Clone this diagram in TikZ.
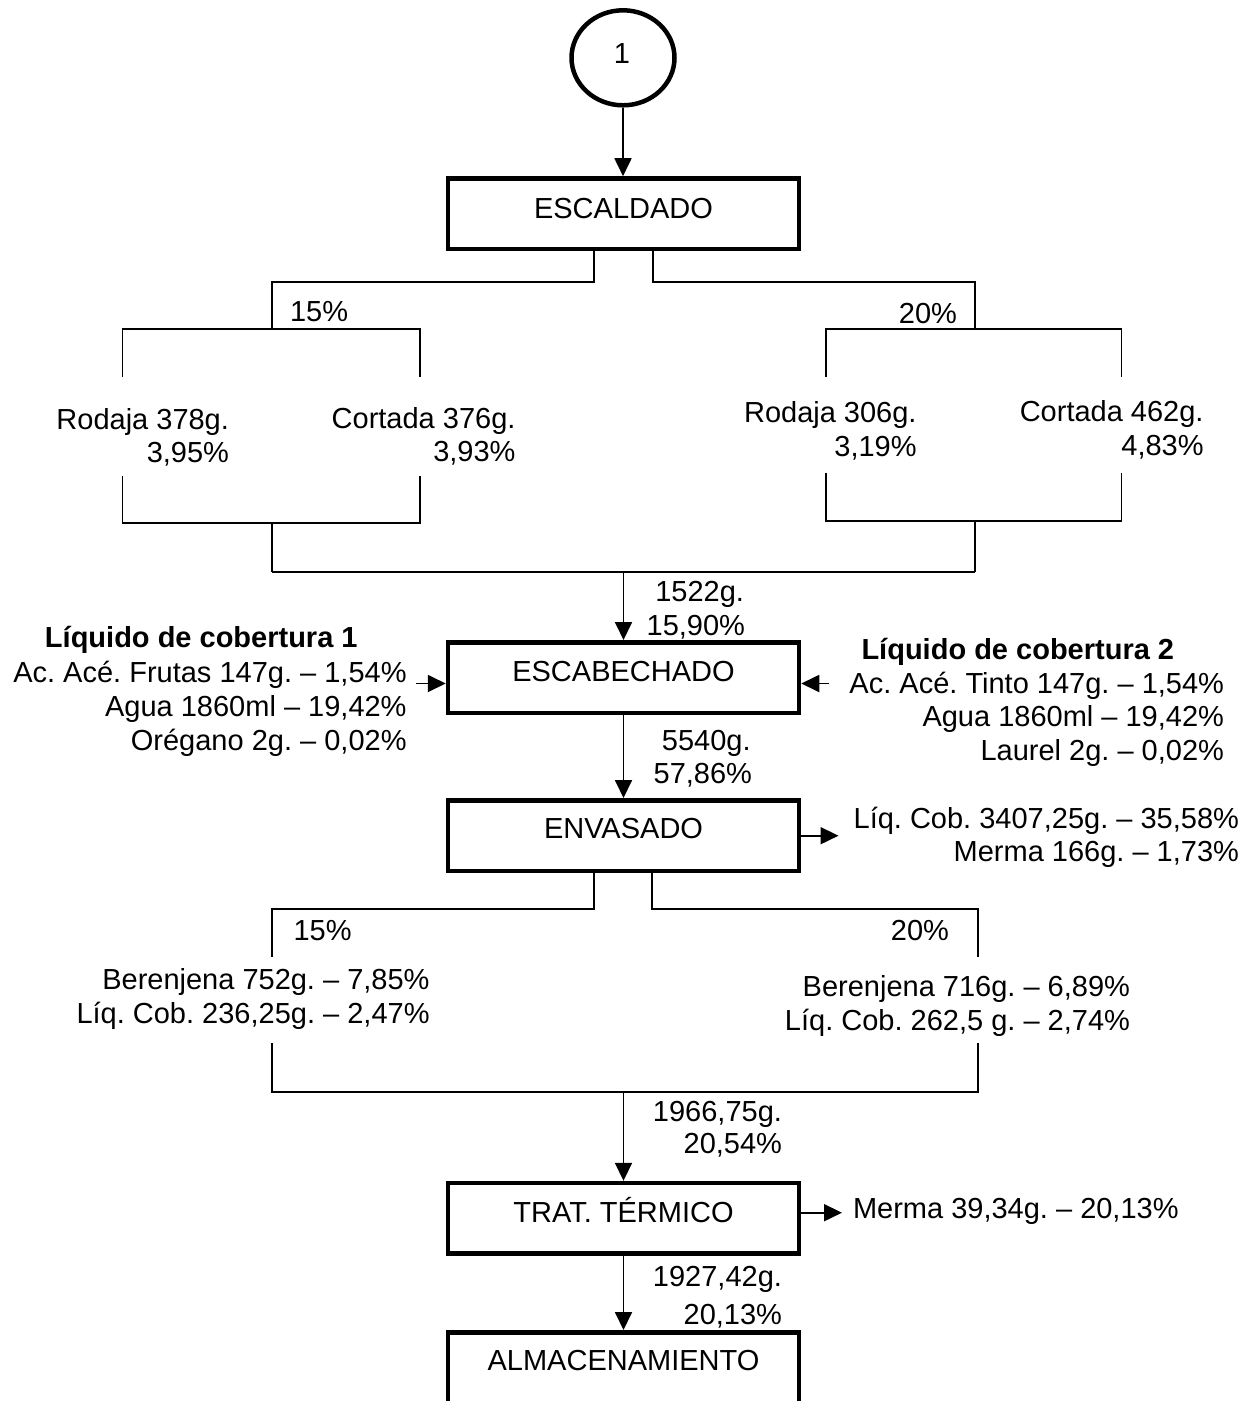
\documentclass[tikz,border=0pt]{standalone}
\usepackage{fontspec}
\setmainfont{Liberation Sans}
\usetikzlibrary{arrows.meta,shapes.geometric}
\frenchspacing
\begin{document}
\begin{tikzpicture}[x=1pt,y=-1pt,
  txt/.style={inner sep=0pt,outer sep=0pt,font=\fontsize{29}{34}\selectfont\frenchspacing},
  btxt/.style={txt,font=\fontsize{29}{34}\selectfont\bfseries\frenchspacing},
  stagebox/.style={draw,line width=4.5pt,rectangle,minimum width=351pt,minimum height=70.5pt,inner sep=0pt},
  ln/.style={line width=1.8pt},
  arr/.style={line width=1.8pt,-{Triangle[length=18pt,width=17pt]}}]
\useasboundingbox (0,0) rectangle (1256,1401);
\fill[white] (0,0) rectangle (1256,1401);
\clip (0,0) rectangle (1256,1401);

% connector circle
\node[draw,ellipse,line width=4.5pt,minimum width=103pt,minimum height=95pt,inner sep=0pt] (c1) at (623,57.8) {};
\node[txt,anchor=base] (c1t) at (622,63.3) {1};

% stage boxes
\node[stagebox] (escaldado) at (623.5,213.7) {};
\node[txt,anchor=base] (escaldadot) at (623.5,218.3) {ESCALDADO};
\node[stagebox] (escabechado) at (623.5,677.5) {};
\node[txt,anchor=base] (escabechadot) at (623.5,681.7) {ESCABECHADO};
\node[stagebox] (envasado) at (623.5,835.5) {};
\node[txt,anchor=base] (envasadot) at (623.5,838) {ENVASADO};
\node[stagebox] (trat) at (623.5,1218.3) {};
\node[txt,anchor=base] (tratt) at (623.5,1222.7) {TRAT. TÉRMICO};
\node[stagebox] (alm) at (623.5,1367.5) {};
\node[txt,anchor=base] (almt) at (623.5,1370) {ALMACENAMIENTO};

\draw[arr] (c1.south) -- (c1.south |- escaldado.north);

% upper split
\coordinate (s1L) at (594,281.7);
\coordinate (s1R) at (653,281.7);
\draw[ln] (s1L |- escaldado.south) -- (s1L) -- (272,281.7) -- (272,329.3);
\draw[ln] (122.5,377.3) -- (122.5,329.3) -- (419.8,329.3) -- (419.8,377.3);
\draw[ln] (s1R |- escaldado.south) -- (s1R) -- (975,281.7) -- (975,329.3);
\draw[ln] (825.6,377.3) -- (825.6,329.3) -- (1121.5,329.3) -- (1121.5,377.3);

\node[txt,anchor=base west] (p15a) at (290,321.7) {15\%};
\node[txt,anchor=base east] (p20a) at (957,323.3) {20\%};

\node[txt,anchor=base east] (rod1) at (229,429.3) {Rodaja 378g.};
\node[txt,anchor=base east] (rod1p) at (229,462.7) {3,95\%};
\node[txt,anchor=base east] (cor1) at (515.5,428.3) {Cortada 376g.};
\node[txt,anchor=base east] (cor1p) at (515.5,461.7) {3,93\%};
\node[txt,anchor=base east] (rod2) at (916.6,422.7) {Rodaja 306g.};
\node[txt,anchor=base east] (rod2p) at (916.6,456.7) {3,19\%};
\node[txt,anchor=base east] (cor2) at (1203.6,421) {Cortada 462g.};
\node[txt,anchor=base east] (cor2p) at (1203.6,455) {4,83\%};

% lower join
\draw[ln] (122.5,476) -- (122.5,523) -- (419.8,523) -- (419.8,476);
\draw[ln] (272,523) -- (272,571.7);
\draw[ln] (825.6,472.7) -- (825.6,521) -- (1121.5,521) -- (1121.5,472.7);
\draw[ln] (975,521) -- (975,571.7);
\coordinate (j1) at (623.5,571.7);
\draw[ln] (272,571.7) -- (975,571.7);
\draw[arr] (j1) -- (escabechado.north);
\node[txt,anchor=base east] (m1522) at (744,601.7) {1522g.};
\node[txt,anchor=base east] (p1590) at (745,635) {15,90\%};

% liquid 1
\node[btxt,anchor=base west] (liq1) at (45,647.3) {Líquido de cobertura 1};
\node[txt,anchor=base east] (liq1a) at (406.6,682.7) {Ac. Acé. Frutas 147g. – 1,54\%};
\node[txt,anchor=base east] (liq1b) at (406.6,716) {Agua 1860ml – 19,42\%};
\node[txt,anchor=base east] (liq1c) at (406.6,750.7) {Orégano 2g. – 0,02\%};
\coordinate (inL) at (416,683.5);
\draw[arr] (inL) -- (inL -| escabechado.west);

% liquid 2
\node[btxt,anchor=base west] (liq2) at (861.5,659.3) {Líquido de cobertura 2};
\node[txt,anchor=base east] (liq2a) at (1224,693.3) {Ac. Acé. Tinto 147g. – 1,54\%};
\node[txt,anchor=base east] (liq2b) at (1224,726.7) {Agua 1860ml – 19,42\%};
\node[txt,anchor=base east] (liq2c) at (1224,760) {Laurel 2g. – 0,02\%};
\coordinate (inR) at (829,683.5);
\draw[arr] (inR) -- (inR -| escabechado.east);

\draw[arr] (escabechado.south) -- (envasado.north);
\node[txt,anchor=base east] (m5540) at (750.6,750) {5540g.};
\node[txt,anchor=base east] (p5786) at (752,783.3) {57,86\%};

% envasado output
\coordinate (outE) at (838.5,835.7);
\draw[arr] (envasado.east |- outE) -- (outE);
\node[txt,anchor=base east] (oute1) at (1239,828.3) {Líq. Cob. 3407,25g. – 35,58\%};
\node[txt,anchor=base east] (oute2) at (1239,861.7) {Merma 166g. – 1,73\%};

% envasado split
\coordinate (s2L) at (594,909);
\coordinate (s2R) at (652,909);
\draw[ln] (s2L |- envasado.south) -- (s2L) -- (272,909) -- (272,957.3);
\draw[ln] (s2R |- envasado.south) -- (s2R) -- (977.8,909) -- (977.8,957.3);
\node[txt,anchor=base west] (p15b) at (293.6,940.7) {15\%};
\node[txt,anchor=base east] (p20b) at (949,940.7) {20\%};
\node[txt,anchor=base east] (ber1) at (429.6,989.3) {Berenjena 752g. – 7,85\%};
\node[txt,anchor=base east] (lc1) at (429.6,1023.3) {Líq. Cob. 236,25g. – 2,47\%};
\node[txt,anchor=base east] (ber2) at (1130,996) {Berenjena 716g. – 6,89\%};
\node[txt,anchor=base east] (lc2) at (1130,1030) {Líq. Cob. 262,5 g. – 2,74\%};
\draw[ln] (272,1043) -- (272,1091.7) -- (977.8,1091.7) -- (977.8,1043);
\coordinate (j2) at (623.5,1091.7);
\draw[arr] (j2) -- (trat.north);
\node[txt,anchor=base east] (m1966) at (782,1121.7) {1966,75g.};
\node[txt,anchor=base east] (p2054) at (782,1153.3) {20,54\%};

% trat output
\coordinate (outT) at (842,1212.7);
\draw[arr] (trat.east |- outT) -- (outT);
\node[txt,anchor=base west] (merma2) at (853,1218.3) {Merma 39,34g. – 20,13\%};

\draw[arr] (trat.south) -- (alm.north);
\node[txt,anchor=base east] (m1927) at (782,1286.7) {1927,42g.};
\node[txt,anchor=base east] (p2013) at (782,1324) {20,13\%};
\end{tikzpicture}
\end{document}
